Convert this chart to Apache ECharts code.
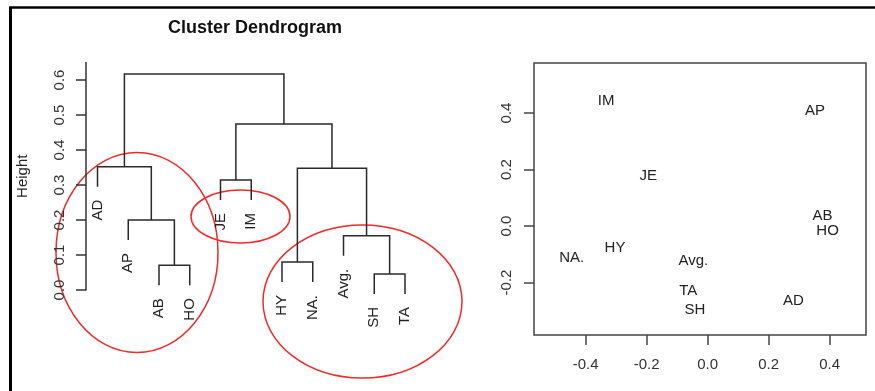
<!DOCTYPE html>
<html>
<head>
<meta charset="utf-8">
<script src="https://cdn.jsdelivr.net/npm/echarts@6/dist/echarts.min.js"></script>
<style>html,body{margin:0;padding:0;background:#fff}#c{width:875px;height:391px}</style>
</head>
<body>
<div id="c"></div>
<script>
// Dendrogram data (leaf order as plotted)
var leaves = ['AD', 'AP', 'AB', 'HO', 'JE', 'IM', 'HY', 'NA.', 'Avg.', 'SH', 'TA'];
// hclust-style merge matrix: negative = leaf (1-based), positive = earlier merge step
var mergeLeft  = [-10, -3, -7, -9, -2, -5, 3, -1, 6, 8];
var mergeRight = [-11, -4, -8,  1,  2, -6, 4,  5, 7, 9];
var mergeHeight = [0.046, 0.071, 0.080, 0.155, 0.200, 0.314, 0.348, 0.352, 0.474, 0.617];
var heightTicks = [0, 0.1, 0.2, 0.3, 0.4, 0.5, 0.6];

// MDS scatter data
var mdsLabels = ['IM', 'AP', 'JE', 'AB', 'HO', 'NA.', 'HY', 'Avg.', 'TA', 'SH', 'AD'];
var mdsX = [-0.333, 0.352, -0.195, 0.376, 0.393, -0.446, -0.304, -0.047, -0.064, -0.042, 0.281];
var mdsY = [0.442, 0.407, 0.177, 0.035, -0.018, -0.114, -0.079, -0.124, -0.229, -0.297, -0.265];
var mdsXTicks = [-0.4, -0.2, 0.0, 0.2, 0.4];
var mdsYTicks = [-0.2, 0.0, 0.2, 0.4];

// build dendrogram segments
var hMax = Math.max.apply(null, mergeHeight), hMin = Math.min.apply(null, mergeHeight);
var hang = 0.1 * (hMax - hMin);
var nodeX = [], segs = [], leafEnds = [];
function childInfo(c, h) {
  if (c < 0) {
    var x = -c, y = h - hang;
    leafEnds.push([x, y, leaves[x - 1]]);
    return [x, y];
  }
  return [nodeX[c - 1], mergeHeight[c - 1]];
}
for (var i = 0; i < mergeHeight.length; i++) {
  var h = mergeHeight[i];
  var l = childInfo(mergeLeft[i], h), r = childInfo(mergeRight[i], h);
  nodeX[i] = (l[0] + r[0]) / 2;
  segs.push([l[0], l[1], r[0], r[1], h]);
}
var mdsData = mdsLabels.map(function (n, i) { return [mdsX[i], mdsY[i], n]; });

var FONT = 'Liberation Sans, Arial, sans-serif';
var chart = echarts.init(document.getElementById('c'), null, {renderer: 'canvas'});
chart.setOption({
  animation: false,
  backgroundColor: '#fff',
  title: {
    text: 'Cluster Dendrogram', left: 250, top: 14, textAlign: 'center',
    textStyle: {fontFamily: FONT, fontSize: 18, fontWeight: 'bold', color: '#111'}
  },
  grid: [
    {left: 86, top: 62.5, width: 354, bottom: 101, show: false},
    {left: 534, top: 63, right: 9, bottom: 56, show: true, borderColor: '#444', borderWidth: 1.5, backgroundColor: 'transparent'}
  ],
  xAxis: [
    {gridIndex: 0, type: 'value', min: 0.626, max: 12.138, show: false},
    {gridIndex: 1, type: 'value', min: -0.5695, max: 0.519,
      splitLine: {show: false}, axisLine: {show: false, onZero: false},
      axisTick: {show: true, length: 10, inside: false, customValues: mdsXTicks, lineStyle: {color: '#444', width: 1.5}},
      axisLabel: {customValues: mdsXTicks, margin: 22, fontFamily: FONT, fontSize: 15, color: '#333',
        formatter: function (v) { return v.toFixed(1); }}}
  ],
  yAxis: [
    {gridIndex: 0, type: 'value', min: 0, max: 0.65,
      name: 'Height', nameLocation: 'middle', nameGap: 56, nameRotate: 90,
      nameTextStyle: {fontFamily: FONT, fontSize: 15, color: '#222'},
      splitLine: {show: false},
      axisLine: {show: true, onZero: false, lineStyle: {color: '#333', width: 1.5}},
      axisTick: {show: true, length: 10, customValues: heightTicks, lineStyle: {color: '#333', width: 1.5}},
      axisLabel: {rotate: 90, margin: 19, customValues: heightTicks, fontFamily: FONT, fontSize: 15, color: '#333',
        formatter: function (v) { return v.toFixed(1); }}},
    {gridIndex: 1, type: 'value', min: -0.386, max: 0.577,
      splitLine: {show: false}, axisLine: {show: false, onZero: false},
      axisTick: {show: true, length: 10, inside: false, customValues: mdsYTicks, lineStyle: {color: '#444', width: 1.5}},
      axisLabel: {rotate: 90, margin: 20, customValues: mdsYTicks, fontFamily: FONT, fontSize: 15, color: '#333',
        formatter: function (v) { return v.toFixed(1); }}}
  ],
  series: [
    {
      type: 'custom', xAxisIndex: 0, yAxisIndex: 0, clip: false, data: segs,
      renderItem: function (params, api) {
        var a = api.coord([api.value(0), api.value(1)]);
        var b = api.coord([api.value(0), api.value(4)]);
        var c = api.coord([api.value(2), api.value(4)]);
        var d = api.coord([api.value(2), api.value(3)]);
        return {type: 'polyline', shape: {points: [a, b, c, d]},
          style: {stroke: '#2a2a2a', lineWidth: 1.5, fill: null}};
      }
    },
    {
      type: 'custom', xAxisIndex: 0, yAxisIndex: 0, clip: false, data: leafEnds,
      renderItem: function (params, api) {
        var p = api.coord([api.value(0), api.value(1)]);
        return {type: 'text', x: p[0], y: p[1] + 13, rotation: Math.PI / 2,
          style: {text: leafEnds[params.dataIndex][2], fontFamily: FONT, fontSize: 15, fill: '#222',
            align: 'right', verticalAlign: 'middle'}};
      }
    },
    {
      type: 'custom', xAxisIndex: 1, yAxisIndex: 1, clip: false, data: mdsData,
      renderItem: function (params, api) {
        var p = api.coord([api.value(0), api.value(1)]);
        return {type: 'text', x: p[0], y: p[1],
          style: {text: mdsData[params.dataIndex][2], fontFamily: FONT, fontSize: 15, fill: '#222',
            align: 'center', verticalAlign: 'middle'}};
      }
    }
  ],
  graphic: [
    {type: 'line', shape: {x1: 9, y1: 7.5, x2: 875, y2: 7.5}, style: {stroke: '#000', lineWidth: 2.5}},
    {type: 'line', shape: {x1: 10.5, y1: 7.5, x2: 10.5, y2: 391}, style: {stroke: '#000', lineWidth: 3}},
    {type: 'ellipse', shape: {cx: 137, cy: 252.5, rx: 81, ry: 100}, style: {stroke: '#ee2a2a', lineWidth: 1.5, fill: null}},
    {type: 'ellipse', shape: {cx: 240.5, cy: 216.5, rx: 49.5, ry: 26.5}, style: {stroke: '#ee2a2a', lineWidth: 1.5, fill: null}},
    {type: 'ellipse', shape: {cx: 362.5, cy: 301.5, rx: 99.5, ry: 76.5}, style: {stroke: '#ee2a2a', lineWidth: 1.5, fill: null}}
  ]
});
</script>
</body>
</html>
